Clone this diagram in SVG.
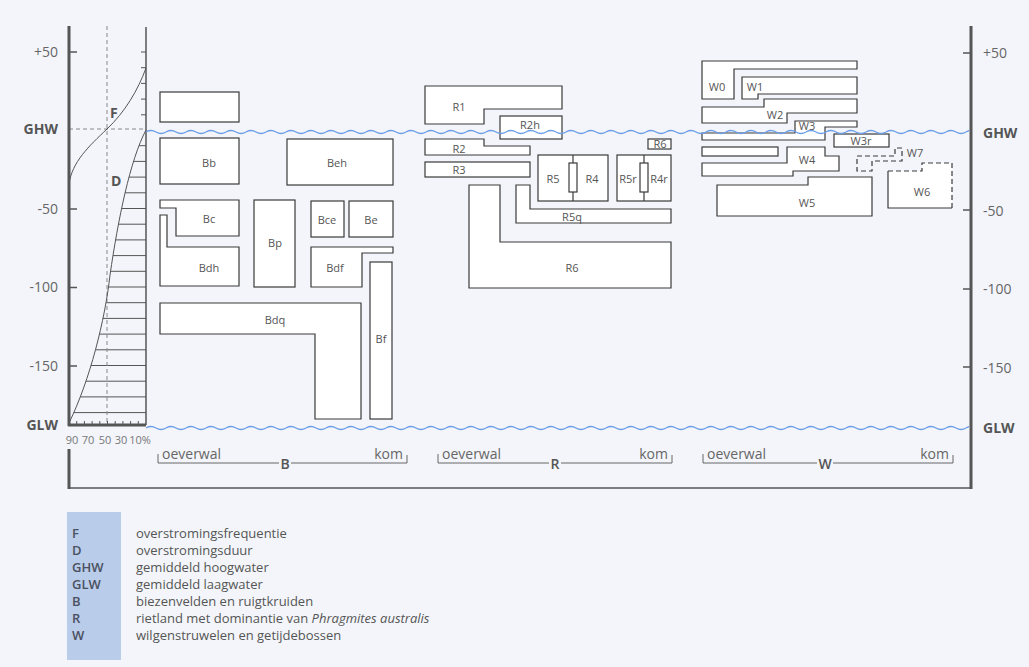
<svg xmlns="http://www.w3.org/2000/svg" width="1029" height="667" viewBox="0 0 1029 667">
<defs>
<style>
.bx{fill:#fff;stroke:#3a3a3a;stroke-width:1.2}
.lb{font-family:"Open Sans","Noto Sans","DejaVu Sans",sans-serif;font-size:11px;fill:#555;text-anchor:middle}
.ax{font-family:"Open Sans","Noto Sans","DejaVu Sans",sans-serif;font-size:14px;fill:#666}
.axb{font-family:"Open Sans","Noto Sans","DejaVu Sans",sans-serif;font-size:14px;fill:#555;font-weight:bold}
.pc{font-family:"Open Sans","Noto Sans","DejaVu Sans",sans-serif;font-size:11px;fill:#777;text-anchor:middle}
.bot{font-family:"Open Sans","Noto Sans","DejaVu Sans",sans-serif;font-size:14px;fill:#666}
.grp{font-family:"Open Sans","Noto Sans","DejaVu Sans",sans-serif;font-size:14px;fill:#555;font-weight:600;text-anchor:middle}
.lgk{font-family:"Open Sans","Noto Sans","DejaVu Sans",sans-serif;font-size:13px;fill:#4a5060;font-weight:600}
.lgt{font-family:"Open Sans","Noto Sans","DejaVu Sans",sans-serif;font-size:13px;fill:#555}
.dash{fill:none;stroke:#3a3a3a;stroke-width:1.2;stroke-dasharray:5,3}
.thin{fill:none;stroke:#555;stroke-width:1}
</style>
<pattern id="wv" x="146" y="128" width="20" height="8" patternUnits="userSpaceOnUse">
<path d="M0,4 Q5,1 10,4 T20,4" fill="none" stroke="#6b9ee6" stroke-width="1.3"/>
</pattern>
<clipPath id="dclip">
<path d="M146,130 C130,160 118,220 110,275 C105,320 90,380 69,423 L146,423 Z"/>
</clipPath>
</defs>
<rect width="1029" height="667" fill="#f3f5fa"/>

<g id="axes">
<g clip-path="url(#dclip)" stroke="#555" stroke-width="1">
<path d="M60,145.7H146M60,161.4H146M60,177.1H146M60,192.8H146M60,208.5H146M60,224.2H146M60,239.9H146M60,255.6H146M60,271.3H146M60,287H146M60,302.7H146M60,318.4H146M60,334.1H146M60,349.8H146M60,365.5H146M60,381.2H146M60,396.9H146M60,412.6H146"/>
</g>
<path d="M107,26V425" stroke="#888" stroke-width="1" stroke-dasharray="4,3" fill="none"/>
<path d="M69,129H146" stroke="#888" stroke-width="1" stroke-dasharray="4,3" fill="none"/>
<path d="M146,68 C138,90 125,112 107,129 C89,146 72,162 69,184" class="thin"/>
<path d="M146,130 C130,160 118,220 110,275 C105,320 90,380 69,423" class="thin"/>
<path d="M69,26V426" stroke="#555" stroke-width="3"/>
<path d="M146,27V425" stroke="#555" stroke-width="1.5"/>
<path d="M68,425H146" stroke="#555" stroke-width="3"/>
<path d="M76.7,425v-4M84.4,425v-4M92.1,425v-4M99.8,425v-4M107.5,425v-4M115.2,425v-4M122.9,425v-4M130.6,425v-4M138.3,425v-4" stroke="#555" stroke-width="1"/>
<path d="M69,52h8M69,209h8M69,287.5h8M69,366h8" stroke="#555" stroke-width="1.5"/>
<path d="M146,52h-5M146,67.7h-5M146,83.4h-5M146,99.1h-5M146,114.8h-5" stroke="#555" stroke-width="1"/>
<path d="M971,26V489" stroke="#555" stroke-width="3"/>
<path d="M971,53h-8M971,210h-8M971,289h-8M971,367h-8" stroke="#555" stroke-width="1.5"/>
<path d="M69,449V489" stroke="#555" stroke-width="3"/>
<path d="M68,488H972" stroke="#555" stroke-width="1.5"/>
<text x="110" y="118" class="axb" font-size="13">F</text>
<text x="111" y="186" class="axb" font-size="13">D</text>
<text x="72" y="444" class="pc">90</text>
<text x="88" y="444" class="pc">70</text>
<text x="105" y="444" class="pc">50</text>
<text x="121" y="444" class="pc">30</text>
<text x="140" y="444" class="pc">10%</text>
<text x="58" y="57" class="ax" text-anchor="end">+50</text>
<text x="58" y="134" class="axb" text-anchor="end">GHW</text>
<text x="58" y="214" class="ax" text-anchor="end">-50</text>
<text x="58" y="292" class="ax" text-anchor="end">-100</text>
<text x="58" y="371" class="ax" text-anchor="end">-150</text>
<text x="58" y="430" class="axb" text-anchor="end">GLW</text>
<text x="983" y="58" class="ax">+50</text>
<text x="983" y="138" class="axb">GHW</text>
<text x="983" y="216" class="ax">-50</text>
<text x="983" y="294" class="ax">-100</text>
<text x="983" y="373" class="ax">-150</text>
<text x="983" y="433" class="axb">GLW</text>
</g>

<g id="B">
<g id="B0"><rect x="160" y="92" width="79" height="30" class="bx"/></g>
<g id="Bb"><rect x="160" y="138" width="79" height="46" class="bx"/><text x="209" y="167" class="lb">Bb</text></g>
<g id="Beh"><rect x="287" y="139" width="106" height="46" class="bx"/><text x="337" y="167" class="lb">Beh</text></g>
<g id="Bc"><polygon points="160,200 239,200 239,236 176,236 176,208 160,208" class="bx"/><text x="209" y="223" class="lb">Bc</text></g>
<g id="Bdh"><polygon points="160,215 167,215 167,247 239,247 239,286 160,286" class="bx"/><text x="209" y="272" class="lb">Bdh</text></g>
<g id="Bp"><rect x="254" y="200" width="41" height="87" class="bx"/><text x="275" y="247" class="lb">Bp</text></g>
<g id="Bce"><rect x="311" y="201" width="33" height="36" class="bx"/><text x="327" y="224" class="lb">Bce</text></g>
<g id="Be"><rect x="349" y="201" width="44" height="36" class="bx"/><text x="371" y="224" class="lb">Be</text></g>
<g id="Bdf"><polygon points="311,247 393,247 393,253 362,253 362,287 311,287" class="bx"/><text x="335" y="272" class="lb">Bdf</text></g>
<g id="Bf"><rect x="370" y="262" width="22" height="157" class="bx"/><text x="381" y="343" class="lb">Bf</text></g>
<g id="Bdq"><polygon points="160,303 361,303 361,419 315,419 315,334 160,334" class="bx"/><text x="275" y="324" class="lb">Bdq</text></g>
</g>

<g id="R">
<g id="R1"><polygon points="425,86 562,86 562,109 484,109 484,124 425,124" class="bx"/><text x="459" y="111" class="lb">R1</text></g>
<g id="R2h"><rect x="500" y="116" width="62" height="23" class="bx"/><text x="530" y="129" class="lb">R2h</text></g>
<g id="R2"><polygon points="425,139 484,139 484,146 530,146 530,155 425,155" class="bx"/><text x="459" y="153" class="lb">R2</text></g>
<g id="R3"><rect x="425" y="162" width="105" height="15" class="bx"/><text x="459" y="174" class="lb">R3</text></g>
<g id="R6s"><rect x="648" y="139" width="23" height="10" class="bx" stroke-width="1.6"/><text x="660" y="148" class="lb" font-size="10">R6</text></g>
<g id="R5R4"><rect x="538" y="155" width="70" height="46" class="bx"/><rect x="569" y="163" width="8" height="29" class="bx"/><path d="M573,155V163M573,192V201" fill="none" stroke="#3a3a3a" stroke-width="1.2"/><text x="553" y="183" class="lb">R5</text><text x="592" y="183" class="lb">R4</text></g>
<g id="R5rR4r"><rect x="617" y="155" width="54" height="46" class="bx"/><rect x="640" y="163" width="8" height="29" class="bx"/><path d="M644,155V163M644,192V201" fill="none" stroke="#3a3a3a" stroke-width="1.2"/><text x="628" y="183" class="lb">R5r</text><text x="659" y="183" class="lb">R4r</text></g>
<g id="R5q"><polygon points="516,185 530,185 530,209 671,209 671,223 516,223" class="bx"/><text x="572" y="221" class="lb">R5q</text></g>
<g id="R6"><polygon points="469,185 500,185 500,242 671,242 671,288 469,288" class="bx"/><text x="572" y="272" class="lb">R6</text></g>
</g>

<g id="W">
<g id="W0"><polygon points="702,61 857,61 857,69 734,69 734,99 702,99" class="bx"/><text x="717" y="91" class="lb">W0</text></g>
<g id="W1"><polygon points="742,77 857,77 857,94 758,94 758,99 742,99" class="bx"/><text x="755" y="91" class="lb">W1</text></g>
<g id="W2"><polygon points="764,99 857,99 857,113 787,113 787,123 702,123 702,107 764,107" class="bx"/><text x="775" y="119" class="lb">W2</text></g>
<g id="W3"><polygon points="795,121 857,121 857,127 825,127 825,140 702,140 702,133 795,133" class="bx"/><text x="807" y="130" class="lb">W3</text></g>
<g id="W3r"><rect x="834" y="134" width="55" height="13" class="bx"/><text x="861" y="145" class="lb">W3r</text></g>
<g id="W4a"><rect x="702" y="147" width="76" height="9" class="bx"/></g>
<g id="W4"><polygon points="787,147 825,147 825,156 839,156 839,171 793,171 793,176 702,176 702,163 787,163" class="bx"/><text x="807" y="164" class="lb">W4</text></g>
<g id="W5"><polygon points="808,177 872,177 872,216 717,216 717,185 808,185" class="bx"/><text x="807" y="207" class="lb">W5</text></g>
<g id="W6"><polygon points="888,171 922,171 922,163 952,163 952,208 888,208" fill="#fff" stroke="none"/><path d="M888,171V208H952" fill="none" stroke="#3a3a3a" stroke-width="1.2"/><path d="M888,171H922V163H952V208" class="dash"/><text x="922" y="196" class="lb">W6</text></g>
<g id="W7"><polygon points="857,156 895,156 895,148 902,148 902,161 872,161 872,171 857,171" class="dash"/><text x="915" y="157" class="lb" fill="#999">W7</text></g>
</g>

<g id="waves">
<rect x="146" y="128" width="823" height="8" fill="url(#wv)"/>
<rect x="146" y="423" width="823" height="8" fill="url(#wv)"/>
</g>

<g id="zones">
<path d="M158,454V463H279M291,463H407V455" fill="none" stroke="#666" stroke-width="1"/>
<text x="162" y="459" class="bot">oeverwal</text>
<text x="403" y="459" class="bot" text-anchor="end">kom</text>
<text x="285" y="469" class="grp">B</text>
<path d="M438,454V463H549M561,463H672V455" fill="none" stroke="#666" stroke-width="1"/>
<text x="442" y="459" class="bot">oeverwal</text>
<text x="668" y="459" class="bot" text-anchor="end">kom</text>
<text x="555" y="469" class="grp">R</text>
<path d="M703,454V463H817M833,463H953V455" fill="none" stroke="#666" stroke-width="1"/>
<text x="707" y="459" class="bot">oeverwal</text>
<text x="949" y="459" class="bot" text-anchor="end">kom</text>
<text x="825" y="469" class="grp">W</text>
</g>

<g id="legend">
<rect x="67" y="512" width="54" height="148" fill="#b9cce9"/>
<text x="72" y="538" class="lgk">F</text><text x="136" y="538" class="lgt">overstromingsfrequentie</text>
<text x="72" y="555" class="lgk">D</text><text x="136" y="555" class="lgt">overstromingsduur</text>
<text x="72" y="572" class="lgk">GHW</text><text x="136" y="572" class="lgt">gemiddeld hoogwater</text>
<text x="72" y="589" class="lgk">GLW</text><text x="136" y="589" class="lgt">gemiddeld laagwater</text>
<text x="72" y="606" class="lgk">B</text><text x="136" y="606" class="lgt">biezenvelden en ruigtkruiden</text>
<text x="72" y="623" class="lgk">R</text><text x="136" y="623" class="lgt">rietland met dominantie van <tspan font-style="italic">Phragmites australis</tspan></text>
<text x="72" y="640" class="lgk">W</text><text x="136" y="640" class="lgt">wilgenstruwelen en getijdebossen</text>
</g>
</svg>
